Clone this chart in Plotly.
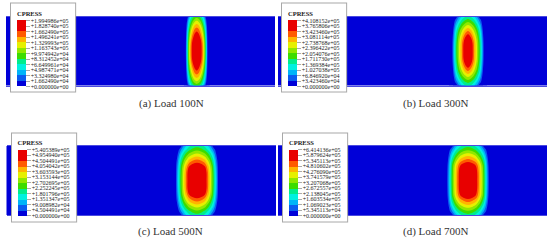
import plotly.graph_objects as go
import numpy as np

W, H = 550, 240

captions = ["(a) Load 100N", "(b) Load 300N", "(c) Load 500N", "(d) Load 700N"]

# Legend labels, top to bottom
labels_a = ["+1.994986e+05", "+1.828740e+05", "+1.662490e+05", "+1.496241e+05", "+1.329993e+05", "+1.163743e+05", "+9.974942e+04", "+8.312452e+04", "+6.649961e+04", "+4.987471e+04", "+3.324980e+04", "+1.662490e+04", "+0.000000e+00"]
labels_b = ["+4.108152e+05", "+3.765806e+05", "+3.423460e+05", "+3.081114e+05", "+2.738768e+05", "+2.396422e+05", "+2.054076e+05", "+1.711730e+05", "+1.369384e+05", "+1.027038e+05", "+6.846920e+04", "+3.423460e+04", "+0.000000e+00"]
labels_c = ["+5.405389e+05", "+4.954940e+05", "+4.504491e+05", "+4.054042e+05", "+3.603593e+05", "+3.153144e+05", "+2.702695e+05", "+2.252245e+05", "+1.801796e+05", "+1.351347e+05", "+9.008982e+04", "+4.504491e+04", "+0.000000e+00"]
labels_d = ["+6.414136e+05", "+5.879624e+05", "+5.345113e+05", "+4.810602e+05", "+4.276090e+05", "+3.741579e+05", "+3.207068e+05", "+2.672557e+05", "+2.138045e+05", "+1.603534e+05", "+1.069023e+05", "+5.345113e+04", "+0.000000e+00"]

# Contact pressure in kPa on one quadrant: rows = distance from mid-width, cols = distance from contact centre
rows_a = [0, 8, 14, 20, 26, 31, 34.5]
cols_a = [0, 2, 4, 6, 8, 10, 11, 13]
press_a = [
    [205, 198, 180, 150, 105, 45, 12, 0],
    [200, 194, 176, 146, 102, 43, 10, 0],
    [184, 178, 160, 132, 92, 38, 6, 0],
    [165, 158, 140, 114, 80, 30, 2, 0],
    [138, 132, 116, 92, 62, 20, 0, 0],
    [112, 106, 92, 72, 46, 8, 0, 0],
    [90, 85, 74, 56, 26, 0, 0, 0],
]
rows_b = [0, 8, 13, 20, 26, 31, 34.5]
cols_b = [0, 3, 6, 9, 12, 15, 16.5, 19]
press_b = [
    [425, 385, 310, 240, 165, 60, 0, 0],
    [415, 378, 305, 236, 160, 55, 0, 0],
    [380, 345, 285, 222, 150, 45, 0, 0],
    [310, 285, 240, 190, 125, 30, 0, 0],
    [240, 222, 190, 145, 90, 10, 0, 0],
    [180, 168, 140, 100, 50, 0, 0, 0],
    [145, 133, 108, 66, 8, 0, 0, 0],
]
rows_c = [0, 8, 14, 20, 26, 31, 34.5]
cols_c = [0, 4, 8, 12, 16, 20, 22, 25]
press_c = [
    [560, 550, 495, 380, 250, 90, 0, 0],
    [558, 545, 495, 375, 245, 85, 0, 0],
    [505, 490, 450, 350, 232, 75, 0, 0],
    [420, 405, 370, 295, 195, 55, 0, 0],
    [330, 315, 285, 225, 145, 25, 0, 0],
    [255, 240, 210, 160, 85, 0, 0, 0],
    [210, 198, 170, 120, 30, 0, 0, 0],
]
rows_d = [0, 8, 15, 20, 26, 31, 34.5]
cols_d = [0, 4, 8, 12, 16, 20, 22, 25]
press_d = [
    [665, 650, 575, 440, 290, 85, 0, 0],
    [660, 645, 575, 435, 285, 80, 0, 0],
    [590, 575, 530, 415, 275, 70, 0, 0],
    [510, 490, 450, 355, 235, 55, 0, 0],
    [400, 385, 345, 270, 170, 25, 0, 0],
    [305, 292, 255, 195, 100, 0, 0, 0],
    [250, 238, 200, 140, 30, 0, 0, 0],
]

band_colors = ["#0000d8", "#0a5cf0", "#00b4f8", "#00f0e0", "#00ec8c", "#10e030", "#3cdc00", "#90e800", "#e6f000", "#ffb400", "#ff5a00", "#e80000"]

# Pixel layout: strip box (left, right, top, bottom), contact centre, legend box (left, top)
panels = [
    dict(strip=(6, 275, 16.5, 85.5), centre=196.7, box=(11, 3.5), cap=(171, 103), labels=labels_a, rows=rows_a, cols=cols_a, press=press_a),
    dict(strip=(278, 547, 16.5, 85.5), centre=468, box=(282, 3.5), cap=(435, 103), labels=labels_b, rows=rows_b, cols=cols_b, press=press_b),
    dict(strip=(6.5, 276, 146, 215), centre=197, box=(11.5, 132.5), cap=(170, 231.5), labels=labels_c, rows=rows_c, cols=cols_c, press=press_c),
    dict(strip=(278, 547, 146, 215), centre=468, box=(283, 132.5), cap=(435, 231.5), labels=labels_d, rows=rows_d, cols=cols_d, press=press_d),
]

SERIF = "Liberation Serif"
fig = go.Figure()
layout = {}
annotations = []

for i, p in enumerate(panels):
    n = "" if i == 0 else str(i + 1)
    l, r, t, b = p["strip"]
    cols = np.array(p["cols"], float)
    rows = np.array(p["rows"], float)
    q = np.array(p["press"], float)
    # the quadrant is mirrored to give the whole footprint
    x = np.concatenate([-cols[::-1], cols[1:]])
    y = np.concatenate([-rows[::-1], rows[1:]])
    qx = np.hstack([q[:, ::-1], q[:, 1:]])
    z = np.vstack([qx[::-1], qx[1:]])
    peak = float(p["labels"][0]) / 1000
    step = peak / 12
    cs = []
    for k, c in enumerate(band_colors):
        cs += [[k / 12, c], [(k + 1) / 12, c]]
    bx, by = p["box"]
    fig.add_trace(go.Contour(
        x=x, y=y, z=z, xaxis="x" + n, yaxis="y" + n,
        zmin=0, zmax=peak, colorscale=cs,
        contours=dict(coloring="fill", start=0, end=step * 11, size=step, showlines=False),
        line=dict(width=0, smoothing=1),
        hoverinfo="skip",
        colorbar=dict(
            x=bx / W, xanchor="left", y=1 - by / H, yanchor="top",
            lenmode="pixels", len=88, thicknessmode="pixels", thickness=9,
            xpad=6, ypad=5, bgcolor="white", bordercolor="#a8a8a8", borderwidth=1,
            outlinewidth=0,
            title=dict(text="<b>CPRESS</b>", side="top", font=dict(family=SERIF, size=6.5, color="#222")),
            tickmode="array",
            tickvals=[peak * (12 - k) / 12 for k in range(13)],
            ticktext=p["labels"],
            ticks="outside", ticklen=4, tickwidth=0.5, tickcolor="#aaaaaa",
            tickfont=dict(family=SERIF, size=6, color="#222"),
        ),
    ))
    c = p["centre"]
    layout["xaxis" + n] = dict(domain=[l / W, r / W], range=[l - c, r - c], anchor="y" + n,
                               showgrid=False, zeroline=False, showticklabels=False, ticks="",
                               showline=True, mirror=True, linecolor="#4a4ae0", linewidth=1)
    layout["yaxis" + n] = dict(domain=[1 - b / H, 1 - t / H], range=[-34.5, 34.5], visible=False, anchor="x" + n)
    cx, cy = p["cap"]
    annotations.append(dict(text=captions[i], xref="paper", yref="paper", x=cx / W, y=1 - cy / H,
                            showarrow=False, xanchor="center", yanchor="middle",
                            font=dict(family=SERIF, size=11, color="#333")))

fig.update_layout(width=W, height=H, margin=dict(l=0, r=0, t=0, b=0), paper_bgcolor="white",
                  plot_bgcolor="#0000d8", showlegend=False, annotations=annotations, **layout)
fig.write_html("out.html", config=dict(displayModeBar=False),
               post_script="document.body.style.margin='0';document.body.style.overflow='hidden';")
